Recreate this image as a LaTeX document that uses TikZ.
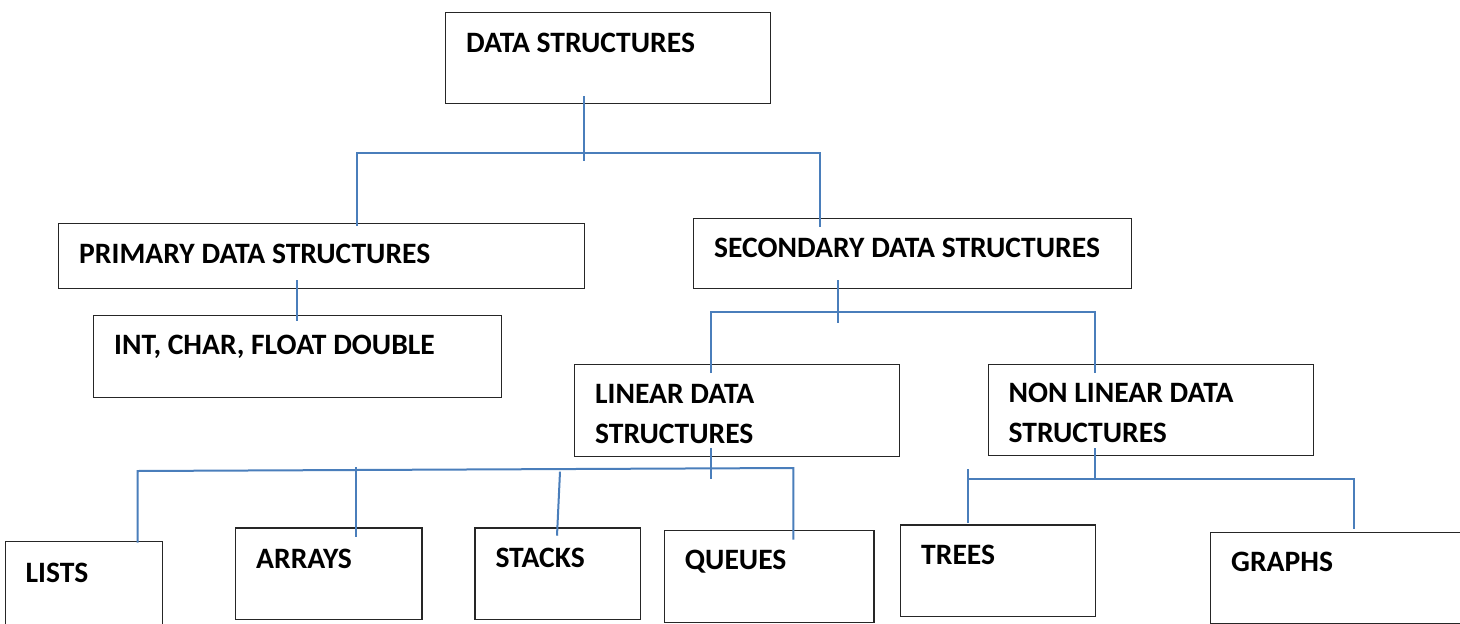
\documentclass[tikz,border=0pt]{standalone}
\usepackage{fontspec}
\setmainfont{Carlito}
\usetikzlibrary{calc}
\definecolor{linkblue}{HTML}{4A7EBB}
% a block: frame node plus its label at the top left (#1 = baseline of the last line)
\newcommand{\dsblock}[7][40]{\node[blockframe, minimum width=#5, minimum height=#6] (#2) at (#3,#4) {};
  \node[blocktext] (#2-txt) at ([shift={(21,#1)}]#2.north west) {#7};}

\begin{document}
\begin{tikzpicture}[x=1pt, y=-1pt,
    blockframe/.style={draw=black!85, line width=1.3pt, anchor=north west, inner sep=0pt},
    blocktext/.style={anchor=base west, inner sep=0pt, align=left, font=\fontsize{29.6}{40.3}\selectfont\bfseries},
    link/.style={draw=linkblue, line width=2pt}]
    \useasboundingbox (0,0) rectangle (1460,624);
    % level 1
    \dsblock{ds}{445}{12}{325}{91}{DATA STRUCTURES}
    % level 2
    \dsblock{prim}{58}{223}{526}{65}{PRIMARY DATA STRUCTURES}
    \dsblock{sec}{693}{217.5}{437.5}{70.5}{SECONDARY DATA STRUCTURES}
    % level 3
    \dsblock{int}{93}{314.5}{408}{82.5}{INT, CHAR, FLOAT DOUBLE}
    \dsblock[79.3]{lin}{574}{364}{325}{91.5}{LINEAR DATA\\STRUCTURES}
    \dsblock[79]{nonlin}{987.5}{363.5}{325}{91.5}{NON LINEAR DATA\\STRUCTURES}
    % level 4
    \dsblock[41.5]{lists}{4.5}{540.5}{157}{100}{LISTS}
    \dsblock[41]{arrays}{235}{527.3}{186.3}{91.7}{ARRAYS}
    \dsblock{stacks}{474.3}{527.3}{165.7}{91.4}{STACKS}
    \dsblock{queues}{663.7}{529.7}{209.6}{92}{QUEUES}
    \dsblock{trees}{900}{524.3}{195}{91.4}{TREES}
    \dsblock{graphs}{1210}{531.7}{260}{91.6}{GRAPHS}
    % data structures -> primary, secondary
    \coordinate (ds-j) at (584,153);
    \coordinate (ds-l) at (357,153);
    \coordinate (ds-r) at (820,153);
    \draw[link] ([yshift=8]ds.south -| ds-j) -- ([yshift=-8]ds-j);
    \draw[link] ([yshift=-3]ds-l |- prim.north) -- (ds-l) -- (ds-r) -- ([yshift=-9]ds-r |- sec.north);
    % primary -> int
    \coordinate (prim-j) at (297,300);
    \draw[link] ([yshift=9]prim-j |- prim.south) -- ([yshift=-6]prim-j |- int.north);
    % secondary -> linear, non linear
    \coordinate (sec-j) at (838,311.5);
    \coordinate (sec-l) at (710.5,311.5);
    \coordinate (sec-r) at (1095,311.5);
    \draw[link] ([yshift=9]sec.south -| sec-j) -- ([yshift=-11.5]sec-j);
    \draw[link] ([yshift=-9]sec-l |- lin.north) -- (sec-l) -- (sec-r) -- ([yshift=-9.5]sec-r |- nonlin.north);
    % linear -> lists, arrays, stacks, queues
    \coordinate (lin-j) at (710.7,469);
    \coordinate (lin-l) at (137.7,471);
    \coordinate (lin-r) at (793.3,468);
    \coordinate (lin-a) at (356.3,467.3);
    \coordinate (lin-s) at (560,471.7);
    \draw[link] ([yshift=9]lin.south -| lin-j) -- ([yshift=-9.7]lin-j);
    \draw[link] ([yshift=-2]lin-l |- lists.north) -- (lin-l) -- (lin-r) -- ([yshift=-10]lin-r |- queues.north);
    \draw[link] (lin-a) -- ([yshift=-10]lin-a |- arrays.north);
    \draw[link] (lin-s) -- ([shift={(-3,8.4)}]lin-s |- stacks.north);
    % non linear -> trees, graphs
    \coordinate (non-j) at (1095,479);
    \coordinate (non-l) at (967.7,479);
    \coordinate (non-r) at (1354.3,479);
    \draw[link] ([yshift=8.3]nonlin.south -| non-j) -- (non-j);
    \draw[link] ([yshift=10]non-l) -- ([yshift=1]non-l |- trees.north);
    \draw[link] (non-l) -- (non-r) -- ([yshift=2.4]non-r |- graphs.north);
\end{tikzpicture}
\end{document}
